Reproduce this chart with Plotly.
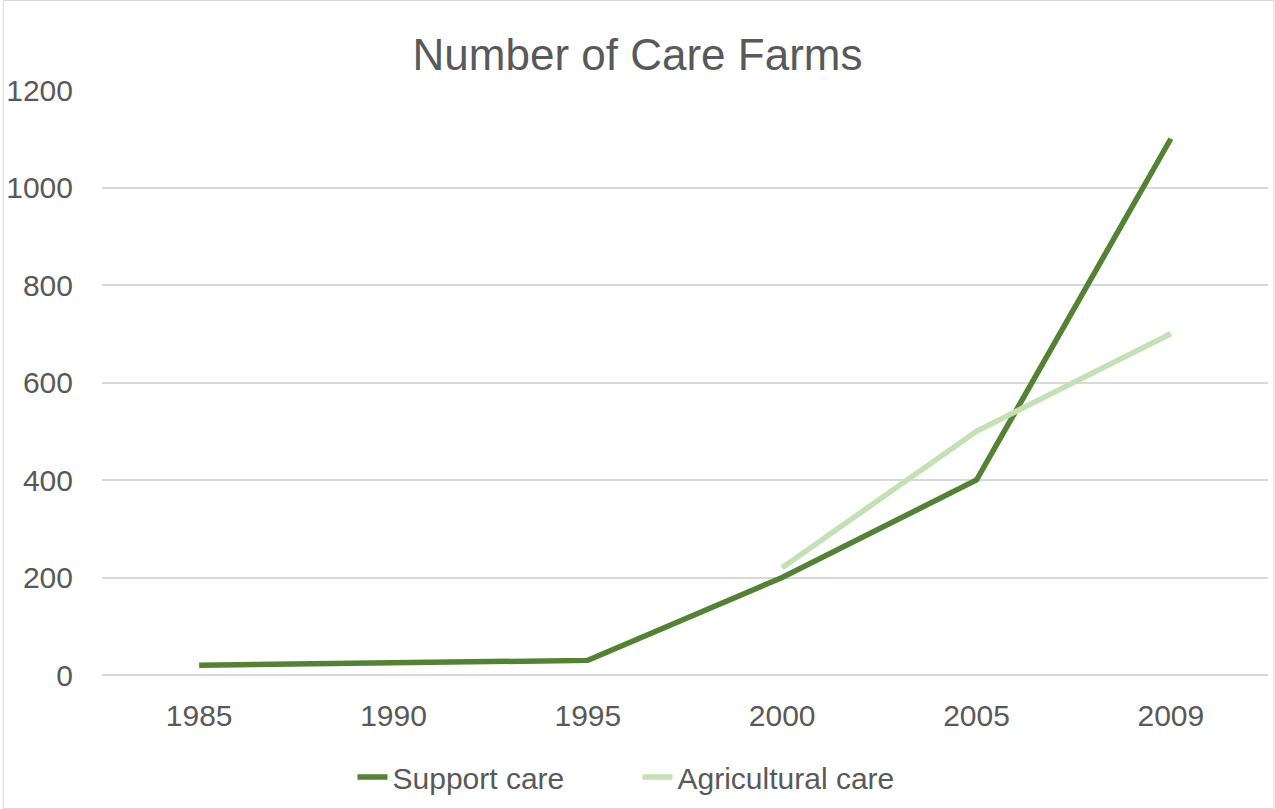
import plotly.graph_objects as go

years = ["1985", "1990", "1995", "2000", "2005", "2009"]
support_care = [20, 25, 30, 200, 400, 1100]
agricultural_care = [None, None, None, 220, 500, 700]
y_ticks = [0, 200, 400, 600, 800, 1000, 1200]

FONT = "Liberation Sans, Arial, sans-serif"
TXT = "#595959"
GRID = "#D9D9D9"

W, H = 1275, 809
L, R, T, B = 99.5, 6.5, 90, 134
pw, ph = W - L - R, H - T - B

fig = go.Figure()
fig.add_trace(go.Scatter(x=years, y=support_care, mode="lines", name="Support care",
                         line=dict(color="#548235", width=5.5), connectgaps=False))
fig.add_trace(go.Scatter(x=years, y=agricultural_care, mode="lines", name="Agricultural care",
                         line=dict(color="#C5E0B4", width=5.5), connectgaps=False))

fig.update_layout(
    width=W, height=H,
    margin=dict(l=L, r=R, t=T, b=B),
    paper_bgcolor="white", plot_bgcolor="white",
    font=dict(family=FONT, color=TXT, size=30),
    title=dict(text="Number of Care Farms", x=0.5, xref="container", xanchor="center",
               y=1 - 55 / H, yref="container", yanchor="middle",
               font=dict(family=FONT, size=44, color=TXT)),
    showlegend=True,
    legend=dict(orientation="h", x=0.5, xref="container", xanchor="center",
                y=1 - 777 / H, yref="container", yanchor="middle", entrywidth=240,
                font=dict(family=FONT, size=30, color=TXT), bgcolor="rgba(0,0,0,0)"),
    xaxis=dict(type="category", range=[-0.5, 5.5], showgrid=False, showline=False,
               ticks="", tickfont=dict(size=30, color=TXT), ticklabelstandoff=20),
    yaxis=dict(range=[0, 1200], tickvals=y_ticks, showgrid=True, gridcolor=GRID, gridwidth=1.5,
               zeroline=True, zerolinecolor=GRID, zerolinewidth=1.5, showline=False,
               ticks="", tickfont=dict(size=30, color=TXT), ticklabelstandoff=28),
    shapes=[dict(type="rect", xref="paper", yref="paper",
                 x0=(0.5 - L) / pw, x1=(W - 0.5 - L) / pw,
                 y0=(H - B - (H - 0.5)) / ph, y1=(H - B - 0.5) / ph,
                 line=dict(color=GRID, width=1), fillcolor="rgba(0,0,0,0)", layer="below")],
)

fig.write_html("out.html")
